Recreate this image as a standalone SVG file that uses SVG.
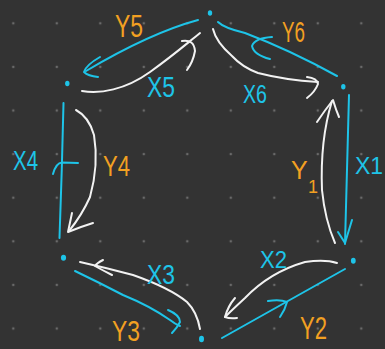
<svg xmlns="http://www.w3.org/2000/svg" width="385" height="349" viewBox="0 0 385 349">
<defs>
<pattern id="grid" patternUnits="userSpaceOnUse" x="-8.45" y="1.5" width="43.5" height="43.6">
<circle cx="21.75" cy="21.8" r="1.3" fill="#6a6a6a"/>
</pattern>
<style>
.w{fill:none;stroke:#f2f2f2;stroke-width:2;stroke-linecap:round;stroke-linejoin:round}
.c{fill:none;stroke:#1ec4e8;stroke-width:2;stroke-linecap:round;stroke-linejoin:round}
.node{fill:#1ec4e8}
.lc{fill:#1ec4e8;font-family:"Liberation Sans",Arial,sans-serif}
.lo{fill:#f2a022;font-family:"Liberation Sans",Arial,sans-serif}
</style>
</defs>
<rect width="385" height="349" fill="#333333"/>
<rect width="385" height="349" fill="url(#grid)"/>
<g id="connectors">
<g id="y5"><path class="c" d="M198,20 Q150,33 86,71"/><path class="c" d="M100,57 Q86,65 84,72 Q88,76 98,77"/><text class="lo" x="115" y="37" font-size="32" textLength="28" lengthAdjust="spacingAndGlyphs">Y5</text></g>
<g id="x5"><path class="w" d="M82,91 C100,94 125,90 150,72 S185,45 200,33"/><path class="w" d="M182,41 Q194,39 195,51 Q193,62 187,70"/><text class="lc" x="147" y="97" font-size="30" textLength="28" lengthAdjust="spacingAndGlyphs">X5</text></g>
<g id="y6"><path class="c" d="M218,22 Q224,28 245,33 Q290,50 337,76"/><path class="c" d="M272,37 Q255,38 252,46 Q254,55 270,59"/><text class="lo" x="282" y="42" font-size="30" textLength="23" lengthAdjust="spacingAndGlyphs">Y6</text></g>
<g id="x6"><path class="w" d="M213,29 Q216,42 232,56 Q242,67 258,73 Q285,80 318,82"/><path class="w" d="M307,77 Q317,78 318,84 Q315,92 307,98"/><text class="lc" x="243" y="103" font-size="26" textLength="24" lengthAdjust="spacingAndGlyphs">X6</text></g>
<g id="x4"><path class="c" d="M63.5,103 Q62,170 59.5,238"/><path class="c" d="M53,174 Q56,163 62,162.5 L78,163"/><text class="lc" x="13" y="170" font-size="28" textLength="25" lengthAdjust="spacingAndGlyphs">X4</text></g>
<g id="y4"><path class="w" d="M76,110 Q89,117 94,135 Q99,165 90,197 Q82,215 69,231"/><path class="w" d="M72,213 L68,232 Q80,227 93,223"/><text class="lo" x="103" y="176" font-size="30" textLength="27" lengthAdjust="spacingAndGlyphs">Y4</text></g>
<g id="y1"><path class="w" d="M335,243 Q325,220 322,190 Q320,140 332,101"/><path class="w" d="M317,122 Q325,110 333,100 Q336,110 339,117"/><text class="lo" x="291" y="179" font-size="25">Y</text><text class="lo" x="308" y="193" font-size="18">1</text></g>
<g id="x1"><path class="c" d="M349,95 Q347,170 345,244"/><path class="c" d="M338,232 L345,243 L352,220"/><text class="lc" x="355" y="174" font-size="23">X1</text></g>
<g id="x2"><path class="w" d="M337,263 Q325,259 305,262 Q270,272 245,298 Q232,310 225,317"/><path class="w" d="M235,298 Q228,306 225,317 Q230,319 237,318"/><text class="lc" x="260" y="268" font-size="24" textLength="27" lengthAdjust="spacingAndGlyphs">X2</text></g>
<g id="y2"><path class="c" d="M222,338 Q290,300 345,269"/><path class="c" d="M268,301 Q280,299 287,302 Q285,310 280,317"/><text class="lo" x="300" y="339" font-size="32" textLength="27" lengthAdjust="spacingAndGlyphs">Y2</text></g>
<g id="x3"><path class="w" d="M200,329 Q197,312 187,302 Q170,288 133,275 Q107,268 80,262"/><path class="w" d="M103,260 Q97,263 95,266 Q104,271 112,275"/><text class="lc" x="147" y="284" font-size="28" textLength="28" lengthAdjust="spacingAndGlyphs">X3</text></g>
<g id="y3"><path class="c" d="M75,271 Q100,283 123,295 Q150,306 170,320 Q175,324 180,326"/><path class="c" d="M168,310 Q180,315 180,322 Q177,328 172,333"/><text class="lo" x="112" y="341" font-size="29" textLength="28" lengthAdjust="spacingAndGlyphs">Y3</text></g>
</g>
<g id="n-top"><ellipse class="node" cx="210" cy="13" rx="2.2" ry="2.8"/></g>
<g id="n-topright"><ellipse class="node" cx="343.3" cy="86.7" rx="2.2" ry="2.8"/></g>
<g id="n-topleft"><ellipse class="node" cx="67.3" cy="83.5" rx="2.2" ry="2.8"/></g>
<g id="n-bottomleft"><ellipse class="node" cx="63.5" cy="257.7" rx="2.6" ry="3"/></g>
<g id="n-bottom"><ellipse class="node" cx="201.5" cy="339" rx="2.5" ry="3.2"/></g>
<g id="n-bottomright"><ellipse class="node" cx="353.3" cy="260.7" rx="2.4" ry="3"/></g>
</svg>
